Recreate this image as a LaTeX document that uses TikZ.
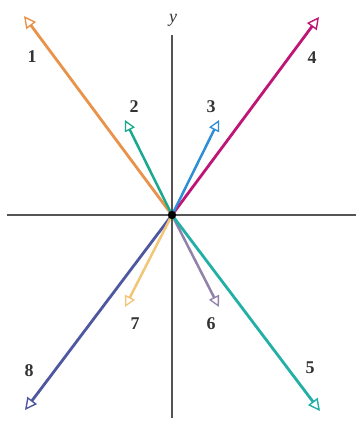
\documentclass[tikz,border=0pt]{standalone}
\usepackage{fontspec}
\setmainfont{Liberation Serif}
\usetikzlibrary{arrows.meta}
\definecolor{cOne}{HTML}{E9924A}
\definecolor{cTwo}{HTML}{1AA88F}
\definecolor{cThree}{HTML}{2E8ED6}
\definecolor{cFour}{HTML}{BF1577}
\definecolor{cFive}{HTML}{22AFA6}
\definecolor{cSix}{HTML}{9082AA}
\definecolor{cSeven}{HTML}{F3C677}
\definecolor{cEight}{HTML}{4E58A0}
\definecolor{axisgray}{HTML}{555555}
\tikzset{
  vec/.style={line width=2.8bp, -{Triangle[open,length=12bp,width=12bp,line width=1.4bp]}},
  smallvec/.style={line width=2.5bp, -{Triangle[open,length=11bp,width=11bp,line width=1.3bp]}},
  axis/.style={line width=1.3bp, draw=axisgray},
  num/.style={font=\fontsize{18}{18}\selectfont\bfseries, inner sep=0pt, text=black!80}
}
\begin{document}
\begin{tikzpicture}[x=1bp,y=-1bp]
\fill[white] (0,0) rectangle (356,422);
\useasboundingbox (0,0) rectangle (356,422);
\coordinate (O) at (172,215);
\coordinate (xl) at (7,215);
\coordinate (xr) at (356,215);
\coordinate (yt) at (172,35);
\coordinate (yb) at (172,418);
\draw[axis] (xl) -- (xr);
\draw[axis] (yt) -- (yb);
\node[font=\fontsize{18}{18}\selectfont\itshape, inner sep=0pt, text=black!80] (ylab) at (173,20) {y};
% vector tips
\coordinate (t1) at (24,16);
\coordinate (t2) at (125,120);
\coordinate (t3) at (219,120);
\coordinate (t4) at (319,17);
\coordinate (t5) at (320,411);
\coordinate (t6) at (219,307);
\coordinate (t7) at (125,307);
\coordinate (t8) at (25,410);
\draw[vec, draw=cOne] (O) -- (t1);
\draw[vec, draw=cFour] (O) -- (t4);
\draw[vec, draw=cEight] (O) -- (t8);
\draw[smallvec, draw=cSeven] (O) -- (t7);
\draw[smallvec, draw=cSix] (O) -- (t6);
\draw[smallvec, draw=cTwo] (O) -- (t2);
\draw[smallvec, draw=cThree] (O) -- (t3);
\draw[vec, draw=cFive] (O) -- (t5);
\fill[black] (O) circle (4.2bp);
% labels
\node[num] (l1) at (32,57) {1};
\node[num] (l2) at (134,107) {2};
\node[num] (l3) at (211,107) {3};
\node[num] (l4) at (312,58) {4};
\node[num] (l5) at (310,368) {5};
\node[num] (l6) at (211,324) {6};
\node[num] (l7) at (135,324) {7};
\node[num] (l8) at (29,371) {8};
\end{tikzpicture}
\end{document}
